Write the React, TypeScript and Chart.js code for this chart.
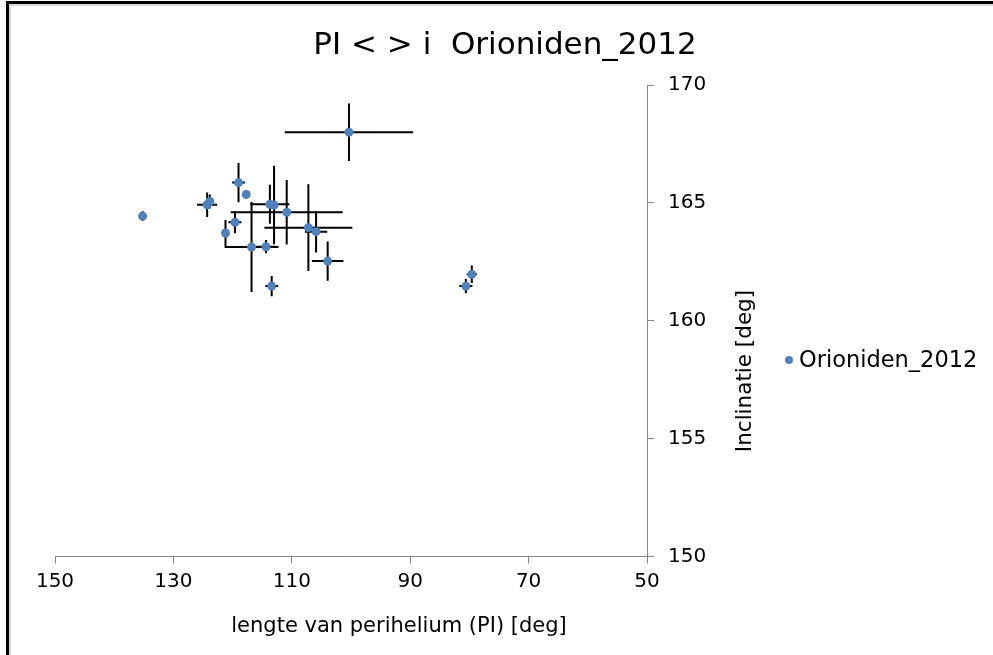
import React, { useEffect, useRef } from "react";
import { Chart, registerables } from "chart.js";

Chart.register(...registerables);

const seriesName = "Orioniden_2012";
const chartTitle = "PI < > i  Orioniden_2012";
const xAxisTitle = "lengte van perihelium (PI) [deg]";
const yAxisTitle = "Inclinatie [deg]";

const piValues = [135.2, 124.3, 123.85, 119.0, 117.7, 119.6, 121.2, 116.8, 114.36, 113.7, 113.0, 110.86, 107.2, 105.9, 103.94, 113.4, 100.34, 79.6, 80.6];
const inclinationValues = [164.44, 164.92, 165.06, 165.86, 165.36, 164.18, 163.72, 163.13, 163.14, 164.94, 164.91, 164.6, 163.95, 163.78, 162.53, 161.47, 168.0, 161.97, 161.47];
const piErrors = [0.3, 1.7, 0.3, 1.08, 0.2, 1.1, 0.3, 4.56, 1.69, 3.3, 0.5, 9.46, 7.43, 1.89, 2.67, 1.07, 10.84, 0.85, 1.1];
const inclinationErrors = [0.2, 0.52, 0.3, 0.83, 0.17, 0.47, 0.55, 1.91, 0.28, 0.83, 1.66, 1.37, 1.84, 0.88, 0.83, 0.43, 1.22, 0.37, 0.3];

const xMin = 50;
const xMax = 150;
const xStep = 20;
const yMin = 150;
const yMax = 170;
const yStep = 5;

const FONT = "'DejaVu Sans', Verdana, sans-serif";
const MARKER = "#4F81BD";
const AXIS = "#868686";

const errorBarPlugin = {
  id: "errorBars",
  beforeDatasetsDraw(chart: any) {
    const { ctx, scales } = chart;
    const xs = scales.x;
    const ys = scales.y;
    ctx.save();
    ctx.strokeStyle = "#000000";
    ctx.lineWidth = 2;
    for (let i = 0; i < piValues.length; i++) {
      const px = xs.getPixelForValue(piValues[i]);
      const py = ys.getPixelForValue(inclinationValues[i]);
      const xa = xs.getPixelForValue(piValues[i] - piErrors[i]);
      const xb = xs.getPixelForValue(piValues[i] + piErrors[i]);
      const ya = ys.getPixelForValue(inclinationValues[i] - inclinationErrors[i]);
      const yb = ys.getPixelForValue(inclinationValues[i] + inclinationErrors[i]);
      ctx.beginPath();
      ctx.moveTo(xa, py);
      ctx.lineTo(xb, py);
      ctx.moveTo(px, ya);
      ctx.lineTo(px, yb);
      ctx.stroke();
    }
    ctx.restore();
  },
};

const textPlugin = {
  id: "texts",
  afterDraw(chart: any) {
    const { ctx } = chart;
    ctx.save();
    ctx.fillStyle = "#000000";
    ctx.textBaseline = "middle";
    // title
    ctx.font = `31px ${FONT}`;
    ctx.textAlign = "center";
    ctx.fillText(chartTitle, 505, 46);
    // x axis title
    ctx.font = `21px ${FONT}`;
    ctx.fillText(xAxisTitle, 399, 627);
    // y axis title
    ctx.save();
    ctx.translate(745, 371);
    ctx.rotate(-Math.PI / 2);
    ctx.font = `21.5px ${FONT}`;
    ctx.fillText(yAxisTitle, 0, 0);
    ctx.restore();
    // legend
    ctx.beginPath();
    ctx.fillStyle = MARKER;
    ctx.arc(789, 360, 4, 0, Math.PI * 2);
    ctx.fill();
    ctx.fillStyle = "#000000";
    ctx.textAlign = "left";
    ctx.font = `22.5px ${FONT}`;
    ctx.fillText(seriesName, 799, 361);
    ctx.restore();
  },
};

function ChartCanvas() {
  const ref = useRef<HTMLCanvasElement | null>(null);
  useEffect(() => {
    if (!ref.current) return;
    const points = piValues.map((v, i) => ({ x: v, y: inclinationValues[i] }));
    const chart = new Chart(ref.current, {
      type: "scatter",
      data: {
        datasets: [
          {
            label: seriesName,
            data: points,
            backgroundColor: MARKER,
            borderColor: MARKER,
            pointRadius: 4.5,
            pointHoverRadius: 4.5,
            pointBorderWidth: 0,
            pointStyle: "circle",
          },
        ],
      },
      options: {
        responsive: false,
        animation: false,
        events: [],
        layout: { padding: { left: 55, top: 85, right: 0, bottom: 0 } },
        plugins: {
          legend: { display: false },
          title: { display: false },
          tooltip: { enabled: false },
        },
        scales: {
          x: {
            type: "linear",
            position: "bottom",
            reverse: true,
            min: xMin,
            max: xMax,
            afterFit: (scale: any) => {
              scale.height = 98.5;
            },
            ticks: {
              stepSize: xStep,
              color: "#000000",
              font: { family: FONT, size: 20 },
              padding: 6,
              maxRotation: 0,
            },
            grid: {
              drawOnChartArea: false,
              drawTicks: true,
              tickLength: 7,
              color: AXIS,
              lineWidth: 1,
            },
            border: { display: true, color: AXIS, width: 1 },
          },
          y: {
            type: "linear",
            position: "right",
            min: yMin,
            max: yMax,
            afterFit: (scale: any) => {
              scale.width = 346;
            },
            ticks: {
              stepSize: yStep,
              color: "#000000",
              font: { family: FONT, size: 20 },
              padding: 14,
            },
            grid: {
              drawOnChartArea: false,
              drawTicks: true,
              tickLength: 7,
              color: AXIS,
              lineWidth: 1,
            },
            border: { display: true, color: AXIS, width: 1 },
          },
        },
      },
      plugins: [errorBarPlugin, textPlugin],
    } as any);
    return () => chart.destroy();
  }, []);
  return <canvas ref={ref} width={993} height={655} style={{ position: "absolute", left: 0, top: 0 }} />;
}

export default function App() {
  return (
    <div
      style={{
        position: "fixed",
        left: 0,
        top: 0,
        width: 993,
        height: 655,
        overflow: "hidden",
        background: "#ffffff",
      }}
    >
      <div
        style={{
          position: "absolute",
          left: 6,
          top: 1,
          width: 2000,
          height: 2000,
          borderTop: "3px solid #000000",
          borderLeft: "3px solid #000000",
        }}
      >
        <div
          style={{
            position: "absolute",
            left: 0,
            top: 0,
            width: 2000,
            height: 2000,
            borderTop: "2px solid #d9d9d9",
            borderLeft: "2px solid #d9d9d9",
          }}
        />
      </div>
      <ChartCanvas />
    </div>
  );
}
